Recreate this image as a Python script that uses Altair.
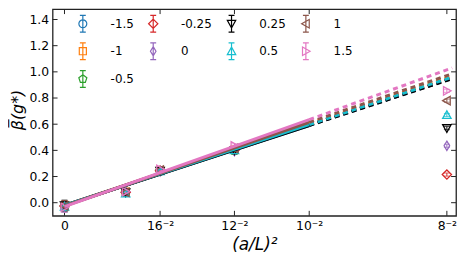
import altair as alt
import pandas as pd

# ---------------- data ----------------
series = ["-1.5", "-1", "-0.5", "-0.25", "0", "0.25", "0.5", "1", "1.5"]
# order handed to the legend (renders as rows: -1.5 -0.25 0.25 1 / -1 0 0.5 1.5 / -0.5)
legend_order = ["-1.5", "1", "0.5", "-0.25", "-1", "1.5", "0.25", "0", "-0.5"]
colors = ["#1f77b4", "#ff7f0e", "#2ca02c", "#d62728", "#9467bd",
          "#000000", "#17becf", "#8c564b", "#e377c2"]

x_points = [0.0, 1 / 400, 1 / 256, 1 / 144, 1 / 64]
beta_values = {
    "-1.5": [-0.030, 0.080, 0.240, 0.400, None],
    "-1": [-0.025, 0.085, 0.245, 0.405, None],
    "-0.5": [-0.030, 0.075, 0.240, 0.395, None],
    "-0.25": [-0.025, 0.080, 0.245, 0.400, 0.215],
    "0": [-0.030, 0.080, 0.240, 0.395, 0.435],
    "0.25": [-0.020, 0.080, 0.245, 0.400, 0.570],
    "0.5": [-0.030, 0.070, 0.240, 0.400, 0.670],
    "1": [-0.025, 0.080, 0.250, 0.415, 0.780],
    "1.5": [-0.035, 0.085, 0.255, 0.435, 0.855],
}
point_err = [0.04, 0.02, 0.015, 0.015, 0.012]

fit_x = [0.0, 0.01, 0.01584]
fit_start = [-0.020, -0.020, -0.020, -0.020, -0.020, -0.020, -0.020, -0.025, -0.030]
fit_mid = [0.590, 0.605, 0.595, 0.595, 0.595, 0.590, 0.597, 0.615, 0.635]
fit_end = [0.950, 0.970, 0.955, 0.952, 0.952, 0.948, 0.960, 0.985, 1.030]

x_ticks = [0.0, 1 / 256, 1 / 144, 1 / 100, 1 / 64]
x_tick_labels = ["0", "16⁻²", "12⁻²", "10⁻²", "8⁻²"]
y_ticks = [0.0, 0.2, 0.4, 0.6, 0.8, 1.0, 1.2, 1.4]

# ---------------- styles ----------------
W, H = 407, 208.5
FONT = "DejaVu Sans"
SYM = 289

markers = {
    "-1.5": "M-0.47,0A0.47,0.47,0,1,1,0.47,0A0.47,0.47,0,1,1,-0.47,0Z",
    "-1": "M-0.42,-0.42H0.42V0.42H-0.42Z",
    "-0.5": "M0,-0.5L0.476,-0.155L0.294,0.405L-0.294,0.405L-0.476,-0.155Z",
    "-0.25": "M0,-0.55L0.55,0L0,0.55L-0.55,0Z",
    "0": "M0,-0.55L0.33,0L0,0.55L-0.33,0Z",
    "0.25": "M-0.5,-0.4L0.5,-0.4L0,0.5Z",
    "0.5": "M-0.5,0.4L0.5,0.4L0,-0.5Z",
    "1": "M-0.5,0L0.4,-0.5L0.4,0.5Z",
    "1.5": "M0.5,0L-0.4,-0.5L-0.4,0.5Z",
}
ebar = "M0,-1V1M-0.35,-1H0.35M-0.35,1H0.35"
marker_range = [markers[s] for s in series]
legend_range = [ebar + markers[s] for s in series]

# ---------------- tables ----------------
rows = []
for s in series:
    for xv, yv, e in zip(x_points, beta_values[s], point_err):
        if yv is not None:
            rows.append({"s": s, "x": xv, "y": yv, "lo": yv - e, "hi": yv + e})
df_pts = pd.DataFrame(rows)
df_leg = df_pts[df_pts["x"] == 0.0]

solid_rows, dash_rows = [], []
for i, s in enumerate(series):
    solid_rows += [{"s": s, "x": fit_x[0], "y": fit_start[i]},
                   {"s": s, "x": fit_x[1], "y": fit_mid[i]}]
    dash_rows += [{"s": s, "x": fit_x[1], "y": fit_mid[i]},
                  {"s": s, "x": fit_x[2], "y": fit_end[i]}]
df_solid = pd.DataFrame(solid_rows)
df_dash = pd.DataFrame(dash_rows)
df_xt = pd.DataFrame({"t": x_ticks})
df_yt = pd.DataFrame({"t": y_ticks})

# ---------------- scales / axes ----------------
scale_x = alt.Scale(domain=[-0.000486, 0.016], nice=False, zero=False)
scale_y = alt.Scale(domain=[-0.1, 1.4795], nice=False, zero=False)

expr = "''"
for v, lab in reversed(list(zip(x_ticks, x_tick_labels))):
    expr = f"abs(datum.value - {v}) < 1e-7 ? '{lab}' : ({expr})"

x_axis = alt.Axis(values=x_ticks, labelExpr=expr, ticks=False, grid=False,
                  domain=False, title="(a/L)²", labelPadding=4,
                  titleFontSize=17, titleFontStyle="italic", titleFontWeight="normal",
                  titleY=21, titleBaseline="top")
y_axis = alt.Axis(values=y_ticks, format=".1f", ticks=False, grid=False,
                  domain=False, title="β\u0305(g*)", labelPadding=4,
                  titleFontSize=16, titleFontStyle="italic", titleFontWeight="normal",
                  titleX=-27, titleY=H / 2 - 3)


def X(field):
    return alt.X(f"{field}:Q", scale=scale_x, axis=x_axis)


def Y(field):
    return alt.Y(f"{field}:Q", scale=scale_y, axis=y_axis)


def C(legend=None):
    return alt.Color("s:N", scale=alt.Scale(domain=series, range=colors), legend=legend)


# ---------------- layers ----------------
err_rule = alt.Chart(df_pts).mark_rule(strokeWidth=1).encode(
    x=X("x"), y=Y("lo"), y2="hi", color=C())
cap_lo = alt.Chart(df_pts).mark_tick(orient="horizontal", size=6, thickness=1).encode(
    x=X("x"), y=Y("lo"), color=C())
cap_hi = alt.Chart(df_pts).mark_tick(orient="horizontal", size=6, thickness=1).encode(
    x=X("x"), y=Y("hi"), color=C())
points = alt.Chart(df_pts).mark_point(filled=False, size=SYM, strokeWidth=1.3, opacity=1).encode(
    x=X("x"), y=Y("y"), color=C(),
    shape=alt.Shape("s:N", scale=alt.Scale(domain=series, range=marker_range), legend=None))

solid = alt.Chart(df_solid).mark_line(strokeWidth=3).encode(
    x=X("x"), y=Y("y"), color=C())
dashed = alt.Chart(df_dash).mark_line(strokeWidth=3, strokeDash=[5, 4]).encode(
    x=X("x"), y=Y("y"), color=C())

leg_props = dict(title=None, orient="none", legendX=21, legendY=5, columns=4,
                 values=legend_order, symbolSize=SYM, symbolStrokeWidth=1.2,
                 symbolOpacity=1, labelFont=FONT, labelFontSize=12, labelColor="black",
                 labelOffset=18.5, rowPadding=5, columnPadding=10, padding=0)
legend_layer = alt.Chart(df_leg).mark_point(filled=False, size=SYM, opacity=0).encode(
    x=X("x"), y=Y("y"),
    color=C(alt.Legend(**leg_props)),
    shape=alt.Shape("s:N", scale=alt.Scale(domain=series, range=legend_range),
                    legend=alt.Legend(**leg_props)))

TK = 5
xt_bottom = alt.Chart(df_xt).mark_rule(color="#222", strokeWidth=1).encode(
    x=X("t"), y=alt.value(H), y2=alt.value(H - TK))
xt_top = alt.Chart(df_xt).mark_rule(color="#222", strokeWidth=1).encode(
    x=X("t"), y=alt.value(0), y2=alt.value(TK))
yt_left = alt.Chart(df_yt).mark_rule(color="#222", strokeWidth=1).encode(
    y=Y("t"), x=alt.value(0), x2=alt.value(TK))
yt_right = alt.Chart(df_yt).mark_rule(color="#222", strokeWidth=1).encode(
    y=Y("t"), x=alt.value(W), x2=alt.value(W - TK))

chart = alt.layer(
    xt_bottom, xt_top, yt_left, yt_right,
    err_rule, cap_lo, cap_hi, points, solid, dashed, legend_layer,
).resolve_scale(color="independent", shape="independent").properties(
    width=W, height=H,
    padding={"left": 45, "top": 0, "right": 5, "bottom": 45},
    autosize=alt.AutoSizeParams(type="none"),
).configure_axis(
    labelFont=FONT, labelFontSize=12.5, labelColor="black",
    titleFont=FONT, titleColor="black",
).configure_view(stroke="#222", strokeWidth=1.3)

chart.save("out.html", embed_options={"renderer": "svg", "actions": False})
